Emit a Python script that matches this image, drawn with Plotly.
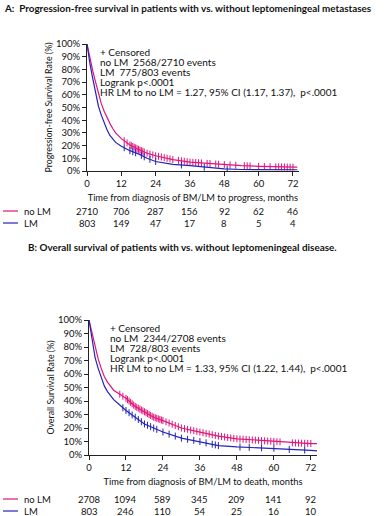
import numpy as np
import plotly.graph_objects as go

# ---------------- DATA ----------------
# Panel A: progression-free survival (%)
pfs_t_nolm = [0, 0.5, 1, 2, 3, 4, 5, 6, 7, 8, 9, 10, 12, 15, 18, 21, 24, 30, 36, 42, 48, 54, 60, 66, 72, 73.5]
pfs_s_nolm = [100, 94, 88, 79, 70, 61, 53, 47, 42, 37.5, 33.5, 30, 25.5, 20.5, 17, 14, 12, 9, 7, 6, 5, 4.3, 3.7, 3.3, 3, 3]
pfs_t_lm = [0, 0.5, 1, 2, 3, 4, 5, 6, 7, 8, 9, 10, 12, 15, 18, 21, 24, 30, 36, 42, 48, 54, 60, 66, 72, 73.5]
pfs_s_lm = [100, 92, 85, 73, 61, 51, 44, 38, 32.5, 28, 25, 22.5, 19.5, 16, 13.5, 10, 7.5, 5.2, 4.3, 2.7, 1.6, 1.2, 1, 1, 1, 1]
pfs_cens_nolm = [13, 14, 15, 15.5, 16, 16.5, 17, 17.5, 18, 18.5, 19, 19.5, 20, 21, 22, 23, 24, 25, 26, 27,
                 28, 29, 30, 32, 33, 34, 35, 36, 37, 38, 39, 40, 42, 43, 45, 46, 48, 50, 52, 55, 56, 57,
                 60, 62, 64, 66, 67, 68, 69, 70, 71, 72]
pfs_cens_lm = [13, 15, 16, 17, 19, 20, 22, 24, 33, 41, 49]

# Panel B: overall survival (%)
os_t_nolm = [0, 1, 2, 3, 4, 5, 6, 8, 10, 12, 15, 18, 21, 24, 30, 36, 42, 48, 54, 60, 66, 72, 74]
os_s_nolm = [100, 90, 80, 71, 64, 58, 54, 48, 45, 42, 36, 32, 28, 25.5, 20, 17, 14, 12, 11, 10, 9, 8.5, 8.5]
os_t_lm = [0, 1, 1.5, 2, 3, 4, 5, 6, 8, 10, 12, 15, 18, 21, 24, 30, 36, 42, 48, 54, 60, 66, 72, 74]
os_s_lm = [100, 85, 78, 72, 64, 57, 51, 47, 41, 37, 33, 28, 23, 20, 17, 12.5, 10, 7, 6, 5.5, 5, 4, 3.5, 3]
os_cens_nolm = [10, 11, 12, 12.5, 13, 13.5, 14, 14.5, 15, 15.5, 16, 16.5, 17, 17.5, 18, 18.5, 19, 19.5, 20,
                20.5, 21, 21.5, 22, 22.5, 23, 23.5, 24, 25, 26, 27, 28, 29, 30, 31, 32, 33, 34, 35, 36,
                37, 38, 39, 40, 41, 42, 43, 44, 45, 46, 47, 48, 49, 50, 51, 52, 53, 54, 55, 56, 57, 58,
                59, 60, 61, 62, 66, 67, 68, 69, 70, 71, 72]
os_cens_lm = [11, 12, 13, 14, 15, 16, 17, 18, 19, 20, 21, 22, 24, 26, 28, 30, 32, 34, 36, 38, 40, 41, 42,
              49, 52, 56, 60, 65, 70]

risk_times = [0, 12, 24, 36, 48, 60, 72]
pfs_risk_nolm = [2710, 706, 287, 156, 92, 62, 46]
pfs_risk_lm = [803, 149, 47, 17, 8, 5, 4]
os_risk_nolm = [2708, 1094, 589, 345, 209, 141, 92]
os_risk_lm = [803, 246, 110, 54, 25, 16, 10]

title_a = "A:  Progression-free survival in patients with vs. without leptomeningeal metastases"
title_b = "B: Overall survival of patients with vs. without leptomeningeal disease."
stats_a = ["+ Censored", "no LM  2568/2710 events", "LM  775/803 events", "Logrank p<.0001",
           "HR LM to no LM = 1.27, 95% CI (1.17, 1.37),  p<.0001"]
stats_b = ["+ Censored", "no LM  2344/2708 events", "LM  728/803 events", "Logrank p<.0001",
           "HR LM to no LM = 1.33, 95% CI (1.22, 1.44),  p<.0001"]
ytick_vals = list(range(0, 101, 10))
ytick_text = [f"{v}%" for v in ytick_vals]

# ---------------- STYLE ----------------
C_NOLM = "#E0147A"
C_LM = "#2424B8"
FONT = "Lato"
W, H = 388, 516

fig = go.Figure()


def add_panel(xa, ya, t1, s1, c1, t2, s2, c2):
    xref = "x" if xa == 1 else f"x{xa}"
    yref = "y" if ya == 1 else f"y{ya}"
    for t, s, c, col in [(t1, s1, c1, C_NOLM), (t2, s2, c2, C_LM)]:
        fig.add_trace(go.Scatter(x=t, y=s, mode="lines", line=dict(color=col, width=1.2),
                                 xaxis=xref, yaxis=yref, showlegend=False, hoverinfo="skip"))
        cy = np.interp(c, t, s)
        fig.add_trace(go.Scatter(x=c, y=cy, mode="markers",
                                 marker=dict(symbol="line-ns", size=5, line=dict(width=1, color=col)),
                                 xaxis=xref, yaxis=yref, showlegend=False, hoverinfo="skip"))


add_panel(1, 1, pfs_t_nolm, pfs_s_nolm, pfs_cens_nolm, pfs_t_lm, pfs_s_lm, pfs_cens_lm)
add_panel(2, 2, os_t_nolm, os_s_nolm, os_cens_nolm, os_t_lm, os_s_lm, os_cens_lm)

axis_common = dict(showline=True, linecolor="#222", linewidth=1, ticks="outside", ticklen=4,
                   tickcolor="#222", tickfont=dict(size=9.5, color="#111", family=FONT),
                   showgrid=False, zeroline=False, automargin=False)


def px(xp):
    return xp / W


def py(yp):
    return 1 - yp / H


xt_font = dict(size=9.3, family=FONT)
yt_font = dict(size=8.8, family=FONT)

fig.update_layout(
    width=W, height=H, margin=dict(l=0, r=0, t=0, b=0, autoexpand=False),
    paper_bgcolor="white", plot_bgcolor="white",
    font=dict(family=FONT, color="#111"),
    xaxis=dict(domain=[px(87), px(298.7)], range=[0, 74], tickvals=risk_times, anchor="y",
               title=dict(text="Time from diagnosis of BM/LM to progress, months",
                          font=xt_font, standoff=6), **axis_common),
    yaxis=dict(domain=[py(171), py(44)], range=[0, 100], tickvals=ytick_vals, ticktext=ytick_text,
               anchor="x", title=dict(text="Progression-free Survival Rate (%)",
                                      font=yt_font, standoff=1), **axis_common),
    xaxis2=dict(domain=[px(89), px(317)], range=[0, 74], tickvals=risk_times, anchor="y2",
                title=dict(text="Time from diagnosis of BM/LM to death, months",
                           font=xt_font, standoff=6), **axis_common),
    yaxis2=dict(domain=[py(455), py(320)], range=[0, 100], tickvals=ytick_vals, ticktext=ytick_text,
                anchor="x2", title=dict(text="Overall Survival Rate (%)",
                                        font=yt_font, standoff=1), **axis_common),
)

# Titles
fig.add_annotation(text=f"<b>{title_a}</b>", x=px(2), y=py(8), xref="paper", yref="paper",
                   xanchor="left", yanchor="middle", showarrow=False, font=dict(size=9.9, family=FONT))
fig.add_annotation(text=f"<b>{title_b}</b>", x=px(26), y=py(247), xref="paper", yref="paper",
                   xanchor="left", yanchor="middle", showarrow=False, font=dict(size=9.9, family=FONT))

# Stats text
for lines, x0, y0 in [(stats_a, 99, 52), (stats_b, 109, 328)]:
    for i, ln in enumerate(lines):
        fig.add_annotation(text=ln, x=px(x0), y=py(y0 + i * 10), xref="paper", yref="paper",
                           xanchor="left", yanchor="middle", showarrow=False, borderpad=0,
                           font=dict(size=10, family=FONT))

# Risk tables
for xr, rows in [("x", [(pfs_risk_nolm, 211, C_NOLM, "no LM"), (pfs_risk_lm, 223, C_LM, "LM")]),
                 ("x2", [(os_risk_nolm, 499, C_NOLM, "no LM"), (os_risk_lm, 511, C_LM, "LM")])]:
    for vals, yp, col, lab in rows:
        for t, v in zip(risk_times, vals):
            fig.add_annotation(text=str(v), x=t, y=py(yp), xref=xr, yref="paper",
                               xanchor="center", yanchor="middle", showarrow=False, borderpad=0,
                               font=dict(size=9.5, family=FONT))
        fig.add_shape(type="line", x0=px(3), x1=px(18), y0=py(yp), y1=py(yp), xref="paper",
                      yref="paper", line=dict(color=col, width=1.2))
        fig.add_annotation(text=lab, x=px(23), y=py(yp), xref="paper", yref="paper",
                           xanchor="left", yanchor="middle", showarrow=False, borderpad=0,
                           font=dict(size=9.5, family=FONT))

fig.write_html("out.html", config={"displayModeBar": False},
               post_script="document.body.style.margin='0';document.body.style.padding='0';")
